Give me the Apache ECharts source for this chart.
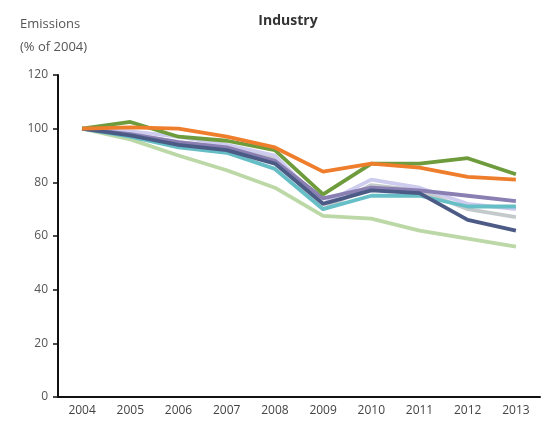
<!DOCTYPE html>
<html><head><meta charset="utf-8">
<script src="https://cdn.jsdelivr.net/npm/echarts@6/dist/echarts.min.js"></script>
<style>html,body{margin:0;padding:0;background:#fff}#c{width:549px;height:429px}</style>
</head><body><div id="c"></div>
<script>
var years = ['2004','2005','2006','2007','2008','2009','2010','2011','2012','2013'];
var yTicks = [0,20,40,60,80,100,120];
var sLightGreen = [100,96,90,84.5,78,67.5,66.5,62,59,56];
var sGray = [100,98,95,93,89,70,79,77,70,67];
var sLavender = [100,99,97,94,90,72,81,78,72,70];
var sTeal = [100,97,93,91,85,70,75,75,71,71];
var sPurple = [100,98,95,93,88,74,78,77,75,73];
var sNavy = [100,97.5,94,92,87,72,77,76,66,62];
var sOrange = [100,100.5,100,97,93,84,87,85.5,82,81];
var sGreen = [100,102.5,97,95.5,92,75.5,87,87,89,83];

var seriesDefs = [
  [sLightGreen,'#bcd8a6'],
  [sGray,'#c4cacb'],
  [sLavender,'#cdcbee'],
  [sTeal,'#66bec6'],
  [sPurple,'#8a7fb2'],
  [sNavy,'#4c5a86'],
  [sGreen,'#6e9b3b'],
  [sOrange,'#ee7d2c']
];
var chart = echarts.init(document.getElementById('c'));
var font = '"Open Sans", "DejaVu Sans", sans-serif';
chart.setOption({
  animation:false,
  backgroundColor:'#fff',
  title:[
    {text:'Industry',left:283,top:9,textAlign:'center',textStyle:{fontFamily:font,fontSize:14,fontWeight:'bold',color:'#333'}},
    {text:'Emissions\n(% of 2004)',left:15,top:8,textStyle:{fontFamily:font,fontSize:13,fontWeight:'normal',color:'#555',lineHeight:23}}
  ],
  grid:{left:58,right:9,top:75,bottom:32,containLabel:false},
  xAxis:{type:'category',data:years,boundaryGap:true,
    axisLine:{lineStyle:{color:'#111',width:2}},
    axisTick:{alignWithLabel:true,length:5,lineStyle:{color:'#111',width:2}},
    axisLabel:{fontFamily:font,fontSize:12,color:'#444',margin:8}},
  yAxis:{type:'value',min:0,max:120,interval:20,
    axisLine:{show:true,lineStyle:{color:'#111',width:2}},
    axisTick:{show:true,length:5,lineStyle:{color:'#111',width:1.5}},
    splitLine:{show:false},
    axisLabel:{fontFamily:font,fontSize:12,color:'#555',margin:10,
      formatter:function(v){return yTicks.indexOf(v)>=0?String(v):'';}}},
  series:seriesDefs.map(function(d){return {type:'line',data:d[0],symbol:'none',
    lineStyle:{color:d[1],width:3.8},itemStyle:{color:d[1]}};})
});
</script></body></html>
